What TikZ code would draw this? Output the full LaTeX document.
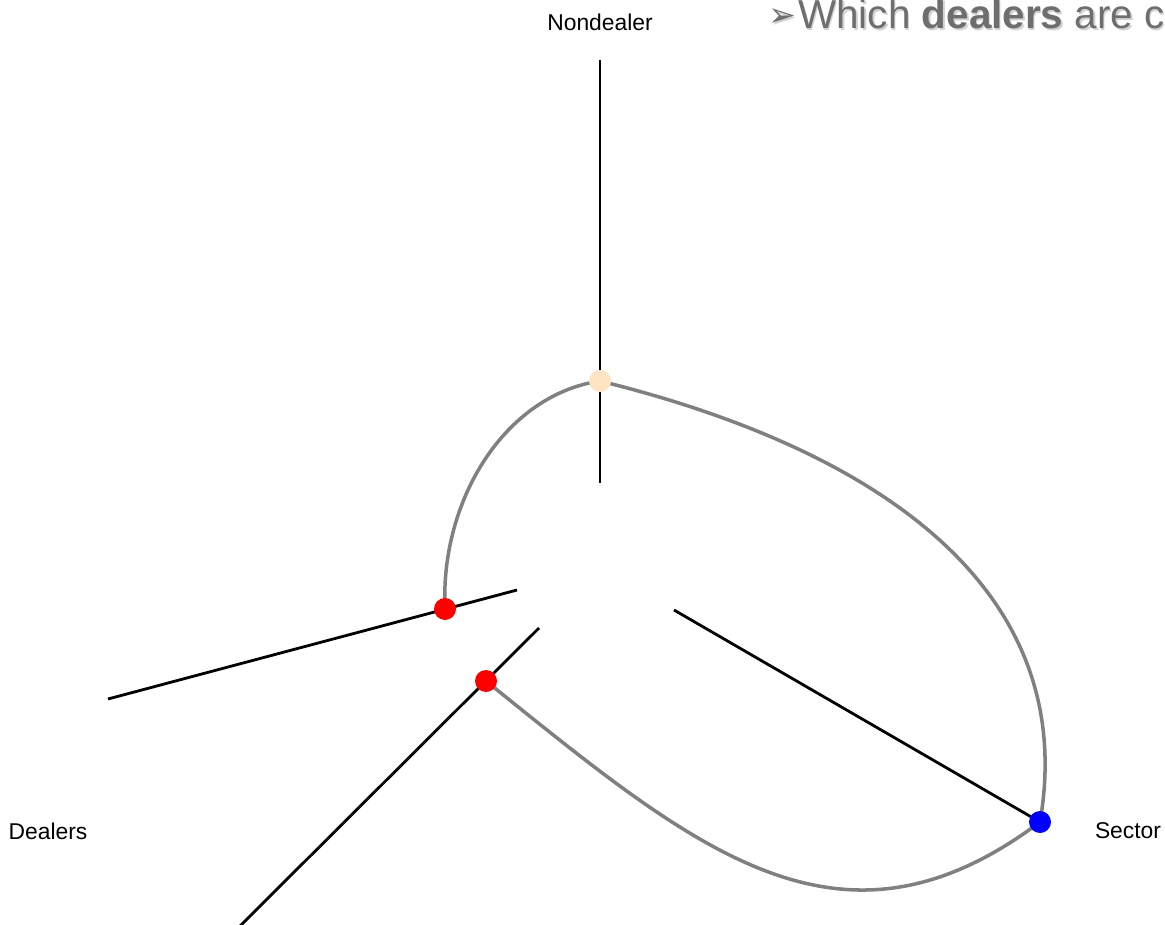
\documentclass[tikz,border=0pt]{standalone}
\usepackage{fontspec}
\setmainfont{Liberation Sans}
\newfontfamily\symfont{DejaVu Sans}
\definecolor{curvegray}{HTML}{808080}
\definecolor{titlegray}{HTML}{6E6E6E}
\definecolor{peach}{HTML}{FFE4C4}
\begin{document}
\begin{tikzpicture}[x=0.02cm,y=-0.02cm,
  axis/.style={draw=black,line width=1.6pt},
  edge/.style={draw=curvegray,line width=2pt},
  vtx/.style={circle,inner sep=0pt,minimum size=0.44cm},
  lbl/.style={font=\fontsize{13}{15}\selectfont},
  ttl/.style={anchor=base west,inner sep=0pt,font=\fontsize{23}{27}\selectfont},
  arr/.style={anchor=base west,inner sep=0pt,font=\fontsize{19}{22}\selectfont}]
\useasboundingbox (0,0) rectangle (1165,925);
\clip (0,0) rectangle (1165,925);
% axes end points
\coordinate (ndA) at (600,60);
\coordinate (ndB) at (600,483);
\coordinate (d1A) at (517,590);
\coordinate (d1B) at (108,699);
\coordinate (d2A) at (539,628);
\coordinate (d2B) at (236,930);
\coordinate (sA) at (674,610);
\coordinate (sB) at (1040,822);
\draw[axis] (ndA) -- (ndB);
\draw[axis] (d1A) -- (d1B);
\draw[axis] (d2A) -- (d2B);
\draw[axis] (sA) -- (sB);
% vertices
\coordinate (p) at (600,381);
\coordinate (r1) at (445,609);
\coordinate (r2) at (486,681);
\coordinate (b) at (1040,822);
\draw[edge] (p) .. controls (505,395) and (440,500) .. (r1);
\draw[edge] (p) .. controls (880,450) and (1080,590) .. (b);
\draw[edge] (r2) .. controls (697,851) and (840,972) .. (b);
\node[vtx,fill=peach] (P) at (p) {};
\node[vtx,fill=red] (R1) at (r1) {};
\node[vtx,fill=red] (R2) at (r2) {};
\node[vtx,fill=blue] (B) at (b) {};
% labels
\node[lbl] (lnd) at (600,22) {Nondealer};
\node[lbl] (ld) at (48,831) {Dealers};
\node[lbl] (ls) at (1128,831) {Sector};
% title
\node[arr,text=black!18] at (769.5,28.5) {\symfont ➢};
\node[ttl,text=black!18] at (799.5,30.5) {Which \textbf{dealers} are c};
\node[arr,text=titlegray] (arrow) at (768,27) {\symfont ➢};
\node[ttl,text=titlegray] (title) at (798,29) {Which \textbf{dealers} are c};
\end{tikzpicture}
\end{document}
